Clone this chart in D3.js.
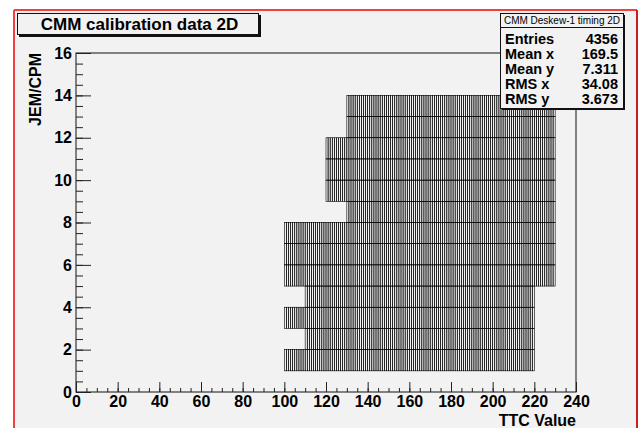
<!DOCTYPE html>
<html>
<head>
<meta charset="utf-8">
<script src="https://cdn.jsdelivr.net/npm/d3@7"></script>
<style>
  body { margin: 0; background: #fff; }
  svg { display: block; }
  text { font-family: "Liberation Sans", Arial, sans-serif; }
</style>
</head>
<body>
<svg id="chart" width="641" height="428"></svg>
<script>
// histogram rows: lower edge of each y bin and the x range that is filled
const rowY     = [1, 2, 3, 4, 5, 6, 7, 8, 9, 10, 11, 12, 13];
const rowXFrom = [100, 110, 100, 110, 100, 100, 100, 130, 120, 120, 120, 130, 130];
const rowXTo   = [220, 220, 220, 220, 230, 230, 230, 230, 230, 230, 230, 230, 230];
const binW = 1, binH = 1;

const xTicks = [0, 20, 40, 60, 80, 100, 120, 140, 160, 180, 200, 220, 240];
const yTicks = [0, 2, 4, 6, 8, 10, 12, 14, 16];

const statLabels = ["Entries", "Mean x", "Mean y", "RMS x", "RMS y"];
const statValues = ["4356", "169.5", "7.311", "34.08", "3.673"];

const W = 641, H = 428;
const plot = {left: 76, top: 53, right: 576, bottom: 392};

const svg = d3.select("#chart");

// canvas background + red border
svg.append("rect").attr("x", 14).attr("y", 10).attr("width", 623).attr("height", 430)
  .attr("fill", "#f2f2f2");
svg.append("line").attr("x1", 14).attr("x2", 14).attr("y1", 10).attr("y2", H)
  .attr("stroke", "#f04040").attr("stroke-width", 2);
svg.append("line").attr("x1", 14).attr("x2", 637).attr("y1", 10).attr("y2", 10)
  .attr("stroke", "#f04040").attr("stroke-width", 2);
svg.append("line").attr("x1", 637).attr("x2", 637).attr("y1", 10).attr("y2", H)
  .attr("stroke", "#c82020").attr("stroke-width", 2);

const x = d3.scaleLinear().domain([0, 240]).range([plot.left, plot.right]);
const y = d3.scaleLinear().domain([0, 16]).range([plot.bottom, plot.top]);

// bins
const bins = [];
rowY.forEach((yy, i) => {
  for (let xx = rowXFrom[i]; xx < rowXTo[i]; xx += binW) bins.push({x: xx, y: yy});
});

svg.append("g").attr("class", "bins")
  .selectAll("rect")
  .data(bins)
  .enter()
  .append("rect")
  .attr("x", d => x(d.x))
  .attr("y", d => y(d.y + binH))
  .attr("width", d => x(d.x + binW) - x(d.x))
  .attr("height", d => y(d.y) - y(d.y + binH))
  .attr("fill", "none")
  .attr("stroke", "#000")
  .attr("stroke-width", 0.6);

// frame
svg.append("rect")
  .attr("x", plot.left).attr("y", plot.top)
  .attr("width", plot.right - plot.left).attr("height", plot.bottom - plot.top)
  .attr("fill", "none").attr("stroke", "#111").attr("stroke-width", 1);

// axes
const xMinor = d3.range(0, 241, 5);
const yMinor = d3.range(0, 16.01, 0.5);

const styleAxis = g => {
  g.select(".domain").remove();
  g.selectAll("line").attr("stroke", "#222");
  g.selectAll("text").attr("font-size", "16px").attr("font-weight", "bold").attr("fill", "#000");
};

svg.append("g").attr("transform", `translate(0,${plot.bottom})`)
  .call(d3.axisBottom(x).tickValues(xMinor).tickSize(-4).tickFormat(""))
  .call(styleAxis);
svg.append("g").attr("transform", `translate(0,${plot.bottom})`)
  .call(d3.axisBottom(x).tickValues(xTicks).tickSize(-10).tickPadding(4).tickFormat(d3.format("d")))
  .call(styleAxis);

svg.append("g").attr("transform", `translate(${plot.left},0)`)
  .call(d3.axisLeft(y).tickValues(yMinor).tickSize(-7).tickFormat(""))
  .call(styleAxis);
svg.append("g").attr("transform", `translate(${plot.left},0)`)
  .call(d3.axisLeft(y).tickValues(yTicks).tickSize(-15).tickPadding(4).tickFormat(d3.format("d")))
  .call(styleAxis);

// axis titles
svg.append("text")
  .attr("x", plot.right).attr("y", 426)
  .attr("text-anchor", "end")
  .attr("font-size", "16px").attr("font-weight", "bold")
  .text("TTC Value");

svg.append("text")
  .attr("transform", `translate(41,${plot.top}) rotate(-90)`)
  .attr("text-anchor", "end")
  .attr("font-size", "16px").attr("font-weight", "bold")
  .text("JEM/CPM");

// title box
svg.append("rect").attr("x", 19).attr("y", 15).attr("width", 242).attr("height", 22).attr("fill", "#111");
svg.append("rect").attr("x", 17.5).attr("y", 13.5).attr("width", 241).attr("height", 21)
  .attr("fill", "#f2f2f2").attr("stroke", "#111");
svg.append("text")
  .attr("x", 139.5).attr("y", 30)
  .attr("text-anchor", "middle")
  .attr("font-size", "17px").attr("font-weight", "bold")
  .text("CMM calibration data 2D");

// stats box
const sb = {x: 500.5, y: 13.5, w: 123, h: 95};
svg.append("rect").attr("x", sb.x + 1.5).attr("y", sb.y + 1.5).attr("width", sb.w).attr("height", sb.h).attr("fill", "#111");
svg.append("rect").attr("x", sb.x).attr("y", sb.y).attr("width", sb.w).attr("height", sb.h)
  .attr("fill", "#f2f2f2").attr("stroke", "#111");
svg.append("line").attr("x1", sb.x).attr("x2", sb.x + sb.w).attr("y1", 27.5).attr("y2", 27.5)
  .attr("stroke", "#111");
svg.append("text")
  .attr("x", sb.x + sb.w / 2).attr("y", 24)
  .attr("text-anchor", "middle")
  .attr("font-size", "10px")
  .text("CMM Deskew-1 timing 2D");

const statY = d3.scalePoint().domain(statLabels).range([44, 104]);
const stats = svg.append("g").selectAll("g")
  .data(statLabels)
  .enter()
  .append("g");
stats.append("text")
  .attr("x", 505).attr("y", d => statY(d))
  .attr("font-size", "14.5px").attr("font-weight", "bold")
  .text(d => d);
stats.append("text")
  .attr("x", 618).attr("y", d => statY(d))
  .attr("text-anchor", "end")
  .attr("font-size", "14.5px").attr("font-weight", "bold")
  .text((d, i) => statValues[i]);
</script>
</body>
</html>
